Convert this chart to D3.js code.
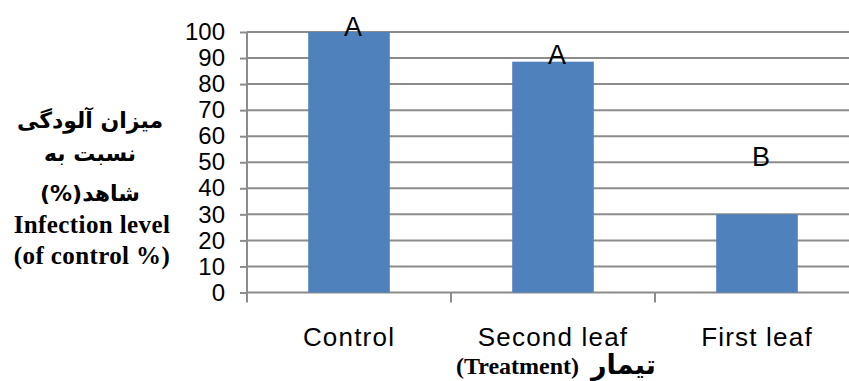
<!DOCTYPE html>
<html>
<head>
<meta charset="utf-8">
<script src="https://cdn.jsdelivr.net/npm/d3@7"></script>
<style>
  body { margin: 0; background: #fff; }
</style>
</head>
<body>
<div id="chart"></div>
<script>
/**
 * DATA
 * */
const categories = ["Control", "Second leaf", "First leaf"];
const values = [100, 88.6, 30];
const letters = ["A", "A", "B"];
const letterAt = [99, 88, 49]; // where the letters sit, in axis units
const yTicks = [0, 10, 20, 30, 40, 50, 60, 70, 80, 90, 100];
const yTitle = ["میزان آلودگی", "نسبت به", "(%)شاهد"];
const yTitleEn = ["Infection level", "(of control %)"];
const xTitleEn = "(Treatment)";
const xTitleFa = "تیمار";

/**
 * CONSTANTS
 * */
const width = 849,
  height = 381,
  margin = { top: 32, bottom: 88, left: 247, right: -10 };

const svg = d3.select("#chart")
  .append("svg")
  .attr("width", width)
  .attr("height", height);

const x = d3.scaleBand()
  .domain(categories)
  .range([margin.left, width - margin.right])
  .paddingInner(0.6)
  .paddingOuter(0.3);

const y = d3.scaleLinear()
  .domain([0, 100])
  .range([height - margin.bottom - 0.5, margin.top]);

const gridColor = "#8c8c8c";

// gridlines + y axis
const yAxis = svg.append("g")
  .attr("transform", `translate(${margin.left},0)`)
  .call(d3.axisLeft(y).tickValues(yTicks).tickSize(7).tickPadding(15).tickFormat(d3.format("d")));
yAxis.select(".domain").remove();
yAxis.selectAll(".tick line").attr("stroke", gridColor).attr("stroke-width", 2);
yAxis.selectAll(".tick text")
  .attr("fill", "#000")
  .style("font-family", "'Liberation Sans', Arial, sans-serif")
  .style("font-size", "24px");

svg.append("g")
  .selectAll("line")
  .data(yTicks)
  .join("line")
  .attr("x1", margin.left)
  .attr("x2", width - margin.right)
  .attr("y1", d => y(d))
  .attr("y2", d => y(d))
  .attr("stroke", gridColor)
  .attr("stroke-width", 2);

// bars
svg.append("g")
  .selectAll("rect")
  .data(values)
  .join("rect")
  .attr("x", (d, i) => x(categories[i]))
  .attr("width", x.bandwidth())
  .attr("y", d => y(d))
  .attr("height", d => y(0) - y(d))
  .attr("fill", "#4f81bd");

// y axis line and category ticks
svg.append("line")
  .attr("x1", margin.left).attr("x2", margin.left)
  .attr("y1", y(100)).attr("y2", y(0) + 10)
  .attr("stroke", gridColor).attr("stroke-width", 2);

svg.append("g")
  .selectAll("line")
  .data(categories.slice(1))
  .join("line")
  .attr("x1", d => x(d) - x.step() * x.paddingInner() / 2)
  .attr("x2", d => x(d) - x.step() * x.paddingInner() / 2)
  .attr("y1", y(0))
  .attr("y2", y(0) + 10)
  .attr("stroke", gridColor).attr("stroke-width", 2);

// category labels
svg.append("g")
  .selectAll("text")
  .data(categories)
  .join("text")
  .attr("x", d => x(d) + x.bandwidth() / 2)
  .attr("y", 346)
  .attr("text-anchor", "middle")
  .style("font-family", "'Liberation Sans', Arial, sans-serif")
  .style("font-size", "26px")
  .style("letter-spacing", "1.2px")
  .text(d => d);

// letters
svg.append("g")
  .selectAll("text")
  .data(letters)
  .join("text")
  .attr("x", (d, i) => x(categories[i]) + x.bandwidth() / 2 + 4)
  .attr("y", (d, i) => y(letterAt[i]) + 1)
  .attr("text-anchor", "middle")
  .style("font-family", "'Liberation Sans', Arial, sans-serif")
  .style("font-size", "27px")
  .text(d => d);

// y title
svg.append("g")
  .selectAll("text")
  .data(yTitle)
  .join("text")
  .attr("x", 90)
  .attr("y", (d, i) => [128, 161, 201][i])
  .attr("text-anchor", "middle")
  .style("font-family", "'DejaVu Sans', sans-serif")
  .style("font-weight", "bold")
  .style("font-size", "22px")
  .text(d => d);

svg.append("g")
  .selectAll("text")
  .data(yTitleEn)
  .join("text")
  .attr("x", 92)
  .attr("y", (d, i) => [233, 264][i])
  .attr("text-anchor", "middle")
  .style("font-family", "'Liberation Serif', 'Times New Roman', serif")
  .style("font-weight", "bold")
  .style("font-size", "25px")
  .style("letter-spacing", "0.4px")
  .text(d => d);

// x title
const xt = svg.append("text")
  .attr("x", 556)
  .attr("y", 374)
  .attr("text-anchor", "middle")
  .style("font-weight", "bold");
xt.append("tspan")
  .style("font-family", "'Liberation Serif', serif")
  .style("font-size", "24px")
  .text(xTitleEn);
xt.append("tspan")
  .attr("dx", 12)
  .style("font-family", "'DejaVu Sans', sans-serif")
  .style("font-size", "27px")
  .text(xTitleFa);
</script>
</body>
</html>
